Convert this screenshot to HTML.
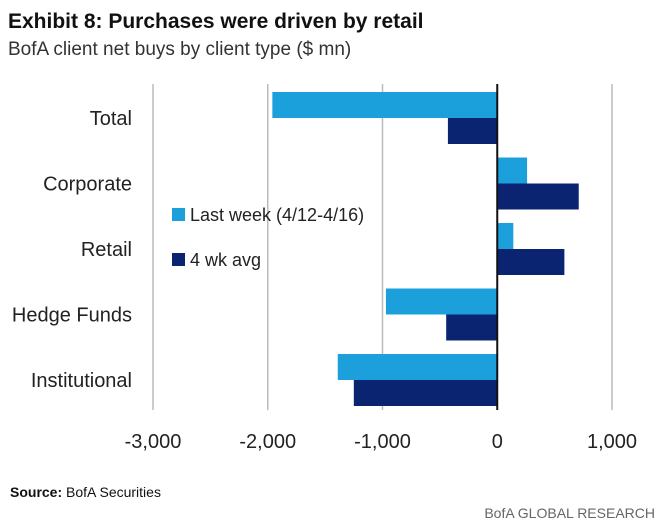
<!DOCTYPE html>
<html><head><meta charset="utf-8"><style>
body{margin:0;background:#fff;}
svg text{font-family:"Liberation Sans Narrow","Liberation Sans",sans-serif;}
</style></head><body>
<svg width="668" height="526" viewBox="0 0 668 526" xmlns="http://www.w3.org/2000/svg">
<text x="8" y="28" font-size="21" font-weight="bold" fill="#111">Exhibit 8: Purchases were driven by retail</text>
<text x="8" y="55" font-size="19" fill="#333">BofA client net buys by client type ($ mn)</text>
<g id="grid"></g><g id="bars"></g><g id="labels"></g>
<g>
<rect x="172" y="208" width="13" height="13" fill="#1ca0dc"/>
<text x="190" y="221" font-size="18" fill="#222">Last week (4/12-4/16)</text>
<rect x="172" y="253" width="13" height="13" fill="#0a2472"/>
<text x="190" y="266" font-size="18" fill="#222">4 wk avg</text>
</g>
<text x="10" y="497" font-size="14" fill="#111"><tspan font-weight="bold">Source:</tspan> BofA Securities</text>
<text x="655" y="518" font-size="14" fill="#666" text-anchor="end">BofA GLOBAL RESEARCH</text>
</svg>
<script>
const categories=["Total","Corporate","Retail","Hedge Funds","Institutional"];
const lastWeek=[-1960,260,140,-970,-1390];
const avg4wk=[-430,710,585,-445,-1250];
const ticks=[-3000,-2000,-1000,0,1000];
const tickLabels=["-3,000","-2,000","-1,000","0","1,000"];
const NS="http://www.w3.org/2000/svg";
const x0=153,x1=612,vMin=-3000,vMax=1000;
function xs(v){return x0+(v-vMin)/(vMax-vMin)*(x1-x0);}
const plotTop=84,bandH=65.5,barH=26,firstBar=92;
function mk(t,a,p){const e=document.createElementNS(NS,t);for(const k in a)e.setAttribute(k,a[k]);p.appendChild(e);return e;}
const grid=document.getElementById('grid'),bars=document.getElementById('bars'),labels=document.getElementById('labels');
ticks.forEach((t,i)=>{
 if(t!==0){const l=mk('line',{x1:xs(t),x2:xs(t),y1:plotTop,y2:410,stroke:'#bbb','stroke-width':1.5},grid);
 
 }
 const tx=mk('text',{x:xs(t),y:448,'font-size':20,fill:'#222','text-anchor':'middle'},labels);
 tx.textContent=tickLabels[i];
 
 
});
categories.forEach((c,i)=>{
 const y=firstBar+i*bandH;
 const a=lastWeek[i],b=avg4wk[i];
 const r1=mk('rect',{x:Math.min(xs(0),xs(a)),y:y,width:Math.abs(xs(a)-xs(0)),height:barH,fill:'#1ca0dc'},bars);
 
 
 const r2=mk('rect',{x:Math.min(xs(0),xs(b)),y:y+barH,width:Math.abs(xs(b)-xs(0)),height:barH,fill:'#0a2472'},bars);
 
 
 const t=mk('text',{x:132,y:y+barH+7,'font-size':20,fill:'#222','text-anchor':'end'},labels);
 t.textContent=c;
 
 
});
const z=mk('line',{x1:xs(0),x2:xs(0),y1:plotTop,y2:410,stroke:'#111','stroke-width':2},bars);


</script>
</body></html>
